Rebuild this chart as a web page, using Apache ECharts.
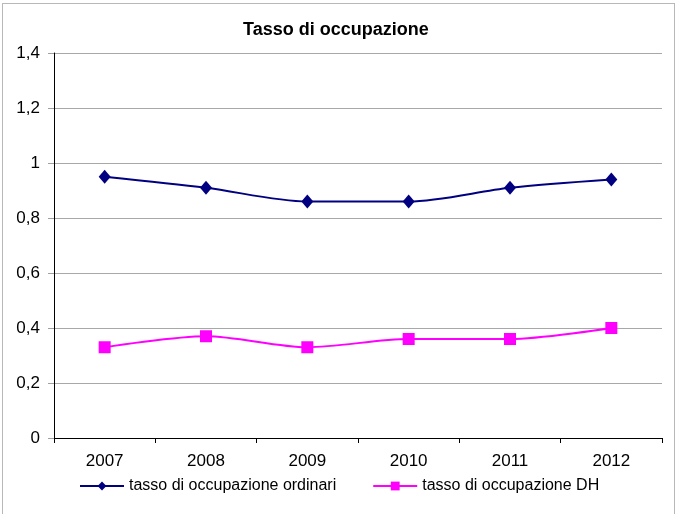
<!DOCTYPE html>
<html>
<head>
<meta charset="utf-8">
<script src="https://cdn.jsdelivr.net/npm/echarts@6/dist/echarts.min.js"></script>
<style>
  html, body { margin: 0; padding: 0; background: #fff; }
  #frame {
    position: absolute; left: 2px; top: 3px; width: 673px; height: 520px;
    border: 1px solid #b8b8b8; box-sizing: border-box;
  }
  #main { position: absolute; left: 0; top: 0; width: 681px; height: 514px; }
</style>
</head>
<body>
<div id="frame"></div>
<div id="main"></div>
<script>
// dati
const anni = ['2007', '2008', '2009', '2010', '2011', '2012'];
const ordinari = [0.95, 0.91, 0.86, 0.86, 0.91, 0.94];
const dh = [0.33, 0.37, 0.33, 0.36, 0.36, 0.40];

const myChart = echarts.init(document.getElementById('main'));
const font = 'Liberation Sans, Arial, sans-serif';

const option = {
  animation: false,
  title: {
    text: 'Tasso di occupazione',
    left: 238,
    top: 16,
    textStyle: { fontFamily: font, fontSize: 18, fontWeight: 'bold', color: '#000' }
  },
  grid: { left: 54, right: 19, top: 53, bottom: 76 },
  legend: {
    bottom: 15,
    left: 74,
    itemGap: 36,
    itemWidth: 44,
    itemHeight: 11,
    textStyle: { fontFamily: font, fontSize: 16, color: '#000' },
    data: ['tasso di occupazione ordinari', 'tasso di occupazione DH']
  },
  xAxis: {
    type: 'category',
    data: anni,
    boundaryGap: true,
    axisLine: { lineStyle: { color: '#000', width: 1 } },
    axisTick: { show: true, length: 5, lineStyle: { color: '#000' } },
    axisLabel: { fontFamily: font, fontSize: 17, color: '#000', margin: 15 }
  },
  yAxis: {
    type: 'value',
    min: 0,
    max: 1.4,
    interval: 0.2,
    axisLine: { show: true, lineStyle: { color: '#000', width: 1 } },
    axisTick: { show: true, length: 6, lineStyle: { color: '#a0a0a0' } },
    splitLine: { lineStyle: { color: '#a8a8a8', width: 1 } },
    axisLabel: {
      fontFamily: font, fontSize: 17, color: '#000', margin: 14,
      formatter: v => String(Math.round(v * 10) / 10).replace('.', ',')
    }
  },
  series: [
    {
      name: 'tasso di occupazione ordinari',
      type: 'line',
      smooth: 0.3,
      data: ordinari,
      symbol: 'diamond',
      symbolSize: [12, 14],
      lineStyle: { color: '#000080', width: 2 },
      itemStyle: { color: '#000080' }
    },
    {
      name: 'tasso di occupazione DH',
      type: 'line',
      smooth: 0.3,
      data: dh,
      symbol: 'rect',
      symbolSize: 12,
      lineStyle: { color: '#ff00ff', width: 2 },
      itemStyle: { color: '#ff00ff' }
    }
  ]
};

myChart.setOption(option);
</script>
</body>
</html>
